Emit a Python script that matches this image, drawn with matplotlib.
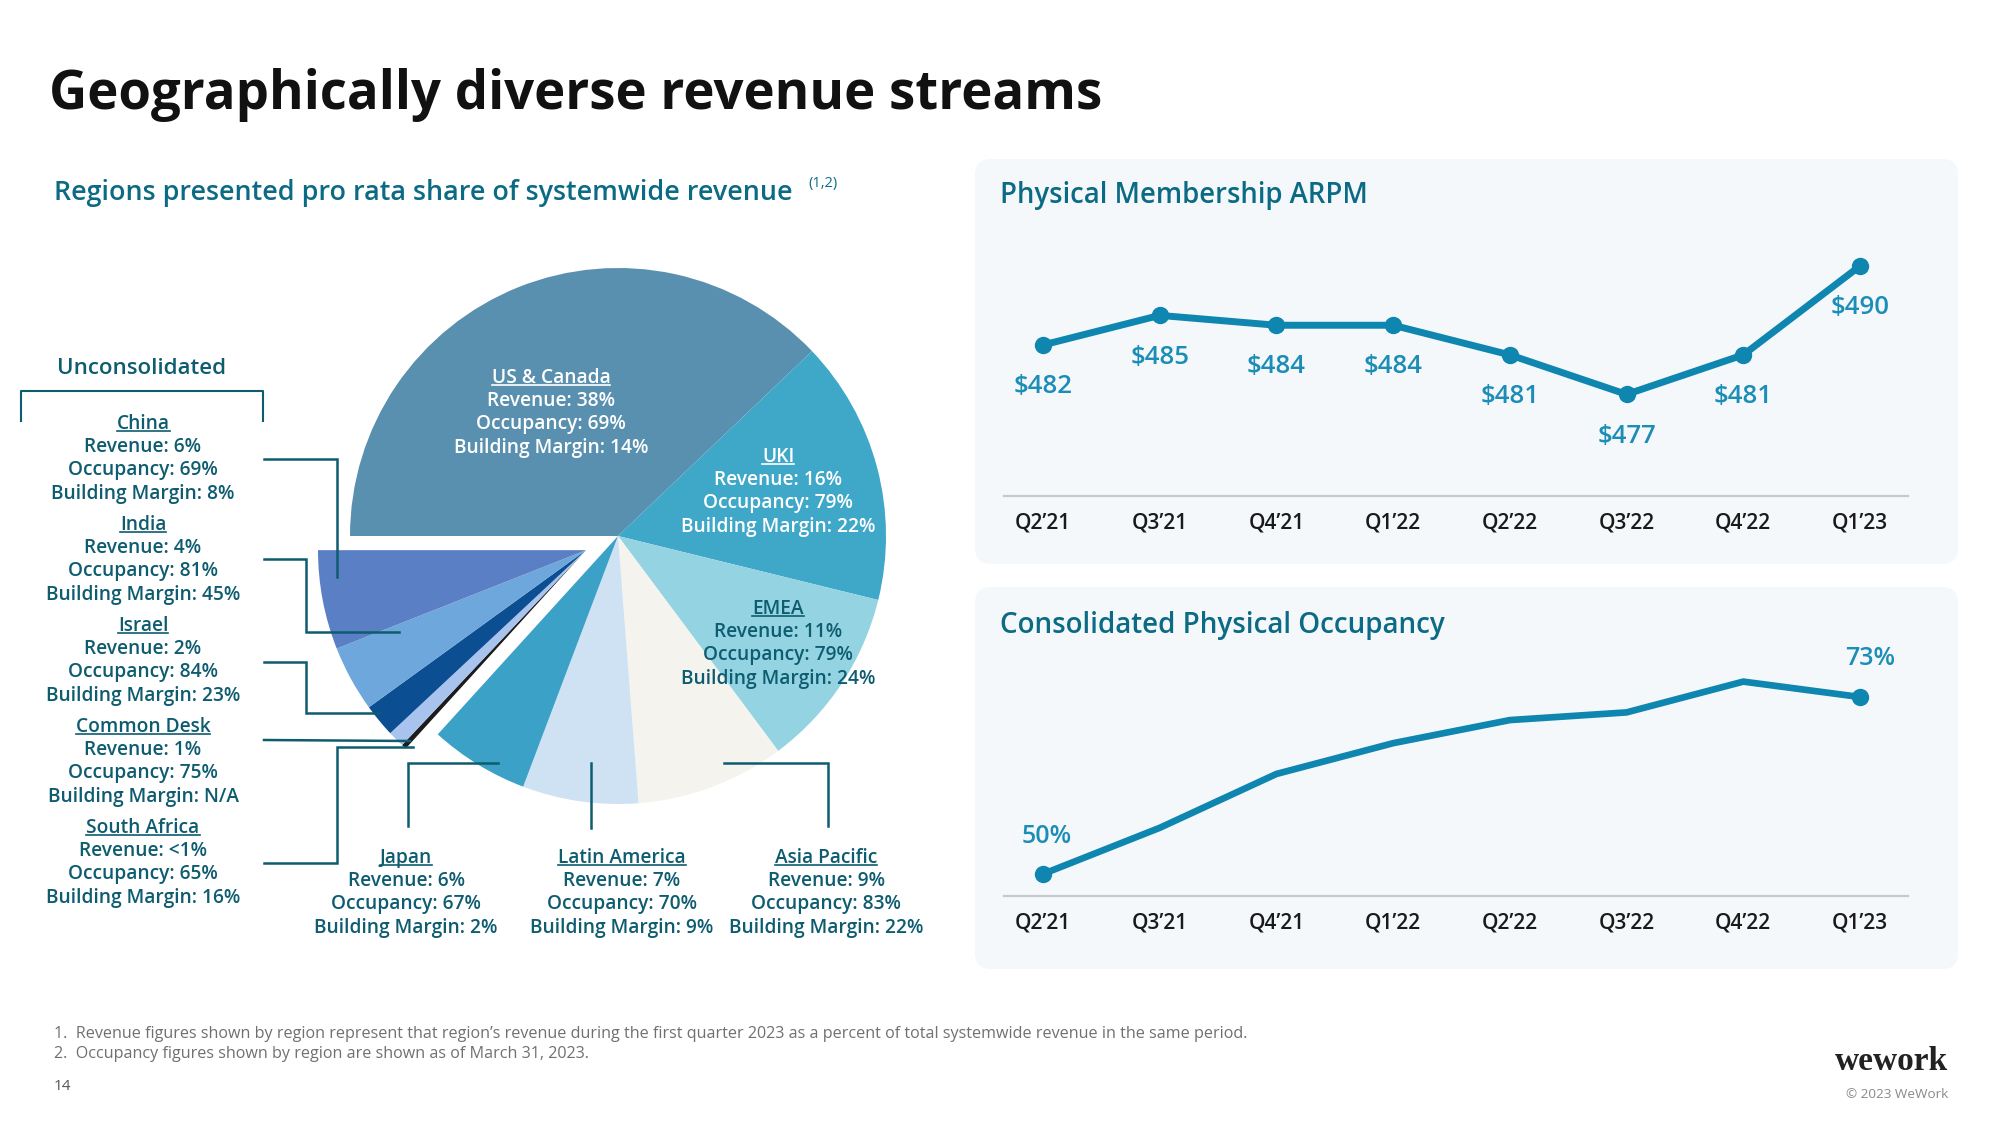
import matplotlib
matplotlib.use("Agg")
import matplotlib.pyplot as plt
from matplotlib.patches import FancyBboxPatch
from matplotlib.lines import Line2D
import numpy as np

W, H = 2000, 1125

# ---------------- data ----------------
regions = ["US & Canada", "UKI", "EMEA", "Asia Pacific", "Latin America", "Japan",
           "South Africa", "Common Desk", "Israel", "India", "China"]
revenue = [38, 16, 11, 9, 7, 6, 0.3, 1, 2, 4, 6]
revenue_lbl = ["38%", "16%", "11%", "9%", "7%", "6%", "<1%", "1%", "2%", "4%", "6%"]
occupancy_lbl = ["69%", "79%", "79%", "83%", "70%", "67%", "65%", "75%", "84%", "81%", "69%"]
margin_lbl = ["14%", "22%", "24%", "22%", "9%", "2%", "16%", "N/A", "23%", "45%", "8%"]
unconsolidated = ["South Africa", "Common Desk", "Israel", "India", "China"]
pie_colors = ["#5A90AF", "#3FA7C8", "#94D4E2", "#F4F3EE", "#CEE2F3", "#3BA1C7",
              "#1C1C1C", "#A8C3EE", "#0C4E92", "#6EA7DC", "#5A7FC4"]

quarters = ["Q2’21", "Q3’21", "Q4’21", "Q1’22", "Q2’22", "Q3’22", "Q4’22", "Q1’23"]
arpm = [482, 485, 484, 484, 481, 477, 481, 490]
occupancy = [50, 56, 63, 67, 70, 71, 75, 73]

TEAL = "#0E5C70"
TEAL_T = "#0B6A84"
LINE = "#0E86B0"
VAL = "#1B8DB6"
FONT = ["Open Sans", "DejaVu Sans"]

plt.rcParams["font.family"] = FONT

fig = plt.figure(figsize=(20, 11.25), dpi=100)
fig.patch.set_facecolor("white")

bg = fig.add_axes([0, 0, 1, 1])
bg.set_xlim(0, W)
bg.set_ylim(0, H)
bg.axis("off")


def Y(y):
    return H - y


def txt(x, y, s, **kw):
    return bg.text(x, Y(y), s, **kw)


# ---------------- titles ----------------
txt(49, 95, "Geographically diverse revenue streams", fontsize=38, fontweight="bold",
    color="#111111", va="center", ha="left")
sub = txt(54, 193, "Regions presented pro rata share of systemwide revenue", fontsize=19.4,
          fontweight="semibold", color=TEAL_T, va="center", ha="left")
txt(808, 184, "(1,2)", fontsize=10.5, color=TEAL_T, va="center", ha="left")

# ---------------- panels ----------------
for (t, b) in [(159, 564), (587, 969)]:
    bg.add_patch(FancyBboxPatch((975, Y(b)), 1958 - 975, b - t,
                                boxstyle="round,pad=0,rounding_size=16",
                                fc="#F4F8FB", ec="none", zorder=0))

# ---------------- pie ----------------
R = 268
cx, cy = 618, Y(536)
tot = sum(revenue)
cons_sum = sum(v for r, v in zip(regions, revenue) if r not in unconsolidated)
a_end = 180 - 360 * cons_sum / tot
mid = np.deg2rad((a_end - 180) / 2)
off = 35
ucx, ucy = cx + off * np.cos(mid), cy + off * np.sin(mid)

cols_cons = [c if r not in unconsolidated else "none" for r, c in zip(regions, pie_colors)]
cols_unc = [c if r in unconsolidated else "none" for r, c in zip(regions, pie_colors)]
bg.pie(revenue, colors=cols_cons, startangle=180, counterclock=False, center=(cx, cy),
       radius=R, wedgeprops=dict(linewidth=0), frame=True)
bg.pie(revenue, colors=cols_unc, startangle=180, counterclock=False, center=(ucx, ucy),
       radius=R, wedgeprops=dict(linewidth=0), frame=True)
bg.set_xlim(0, W)
bg.set_ylim(0, H)
bg.set_aspect("equal")
bg.axis("off")

# ---------------- leader lines ----------------
leaders = [
    [(264, 459), (337, 459), (337, 577)],                 # China
    [(264, 559), (306, 559), (306, 632), (399, 632)],     # India
    [(264, 662), (306, 662), (306, 713), (380, 713)],     # Israel
    [(264, 740), (410, 741)],                              # Common Desk
    [(264, 863), (337, 863), (337, 747), (413, 747)],     # South Africa
    [(408, 826), (408, 763), (498, 763)],                 # Japan
    [(591, 828), (591, 763)],                              # Latin America
    [(724, 763), (828, 763), (828, 826)],                 # Asia Pacific
]
for pts in leaders:
    xs = [p[0] for p in pts]
    ys = [Y(p[1]) for p in pts]
    bg.plot(xs, ys, color=TEAL, lw=1.8, solid_joinstyle="miter", zorder=5)

# bracket
bg.plot([21, 21, 263, 263], [Y(421), Y(391), Y(391), Y(421)], color=TEAL, lw=1.5, zorder=5)
txt(142, 369, "Unconsolidated", fontsize=16, fontweight="semibold", color=TEAL,
    ha="center", va="center")

# ---------------- region labels ----------------
idx = {r: i for i, r in enumerate(regions)}
label_pos = {
    "China": (143, 424), "India": (143, 525), "Israel": (143, 626),
    "Common Desk": (143, 727), "South Africa": (143, 828),
    "Japan": (406, 858), "Latin America": (622, 858), "Asia Pacific": (826, 858),
    "US & Canada": (551, 378), "UKI": (778, 457), "EMEA": (778, 609),
}
white_lbl = {"US & Canada", "UKI"}
headers = []
LS = 23.2
LFS = 13.8
for r, (x, y) in label_pos.items():
    i = idx[r]
    c = "white" if r in white_lbl else TEAL
    h = txt(x, y, r, fontsize=LFS, fontweight="semibold", color=c, ha="center", va="center", zorder=6)
    headers.append((h, c))
    lines = [f"Revenue: {revenue_lbl[i]}", f"Occupancy: {occupancy_lbl[i]}",
             f"Building Margin: {margin_lbl[i]}"]
    for k, s in enumerate(lines):
        txt(x, y + LS * (k + 1), s, fontsize=LFS, fontweight="semibold", color=c,
            ha="center", va="center", zorder=6)

# ---------------- line charts ----------------
def px_axes(left, top, right, bottom):
    return fig.add_axes([left / W, 1 - bottom / H, (right - left) / W, (bottom - top) / H])


x0p, x7p = 1043, 1860
step = (x7p - x0p) / 7
AXL, AXR = 1004, 1908
xlim = (-(x0p - AXL) / step, 7 + (AXR - x7p) / step)
xs = np.arange(len(quarters))


def style(ax):
    ax.set_facecolor("none")
    for s in ["top", "left", "right"]:
        ax.spines[s].set_visible(False)
    ax.spines["bottom"].set_color("#C6C9CD")
    ax.spines["bottom"].set_linewidth(1.6)
    ax.set_yticks([])
    ax.set_xticks(xs, quarters)
    ax.tick_params(axis="x", length=0, pad=12, labelsize=15, labelcolor="#1A1A1A")
    for lab in ax.get_xticklabels():
        lab.set_fontweight("semibold")
    ax.set_xlim(*xlim)


# ARPM
ax1 = px_axes(AXL, 200, AXR, 496)
ppu1 = (345 - 266) / 8.0
ax1.set_ylim(482 - (496 - 345) / ppu1, 482 + (345 - 200) / ppu1)
ax1.plot(xs, arpm, color=LINE, lw=5.0, marker="o", ms=11.5, solid_joinstyle="round",
         solid_capstyle="round", clip_on=False)
for x, v in zip(xs, arpm):
    ax1.annotate(f"${v}", (x, v), xytext=(0, -30), textcoords="offset points",
                 ha="center", va="center", fontsize=18.5, fontweight="semibold", color=VAL)
style(ax1)
txt(1000, 195, "Physical Membership ARPM", fontsize=19.8, fontweight="semibold",
    color=TEAL_T, ha="left", va="center")

# Occupancy
ax2 = px_axes(AXL, 620, AXR, 896)
ppu2 = (874 - 697) / 23.0
ax2.set_ylim(50 - (896 - 874) / ppu2, 50 + (874 - 620) / ppu2)
ax2.plot(xs, occupancy, color=LINE, lw=4.8, solid_joinstyle="round", solid_capstyle="round",
         clip_on=False)
ax2.plot([xs[0], xs[-1]], [occupancy[0], occupancy[-1]], "o", color=LINE, ms=11.5, clip_on=False)
ax2.annotate(f"{occupancy[0]}%", (xs[0], occupancy[0]), xytext=(3, 27), textcoords="offset points",
             ha="center", va="center", fontsize=18, fontweight="semibold", color=VAL)
ax2.annotate(f"{occupancy[-1]}%", (xs[-1], occupancy[-1]), xytext=(7, 28), textcoords="offset points",
             ha="center", va="center", fontsize=18, fontweight="semibold", color=VAL)
style(ax2)
txt(1000, 626, "Consolidated Physical Occupancy", fontsize=20, fontweight="semibold",
    color=TEAL_T, ha="left", va="center")

# ---------------- footer ----------------
txt(54, 1034, "1.  Revenue figures shown by region represent that region’s revenue during the first quarter 2023 as a percent of total systemwide revenue in the same period.",
    fontsize=11.6, color="#707070", ha="left", va="center")
txt(54, 1054, "2.  Occupancy figures shown by region are shown as of March 31, 2023.",
    fontsize=11.6, color="#707070", ha="left", va="center")
txt(54, 1086, "14", fontsize=11, color="#555555", ha="left", va="center")
txt(1948, 1062, "wework", fontsize=24, fontweight="bold", family=["Liberation Serif", "DejaVu Serif"],
    color="#222222", ha="right", va="center")
txt(1948, 1094, "© 2023 WeWork", fontsize=9.7, color="#8A8A8A", ha="right", va="center")

# ---------------- underlines for headers ----------------
fig.canvas.draw()
r = fig.canvas.get_renderer()
inv = bg.transData.inverted()
for h, c in headers:
    bb = h.get_window_extent(r)
    (xa, ya), (xb, yb) = inv.transform([(bb.x0, bb.y0), (bb.x1, bb.y1)])
    yl = ya + 3.0
    bg.add_line(Line2D([xa, xb], [yl, yl], color=c, lw=1.2, zorder=6))

fig.savefig("out.png", dpi=100)
